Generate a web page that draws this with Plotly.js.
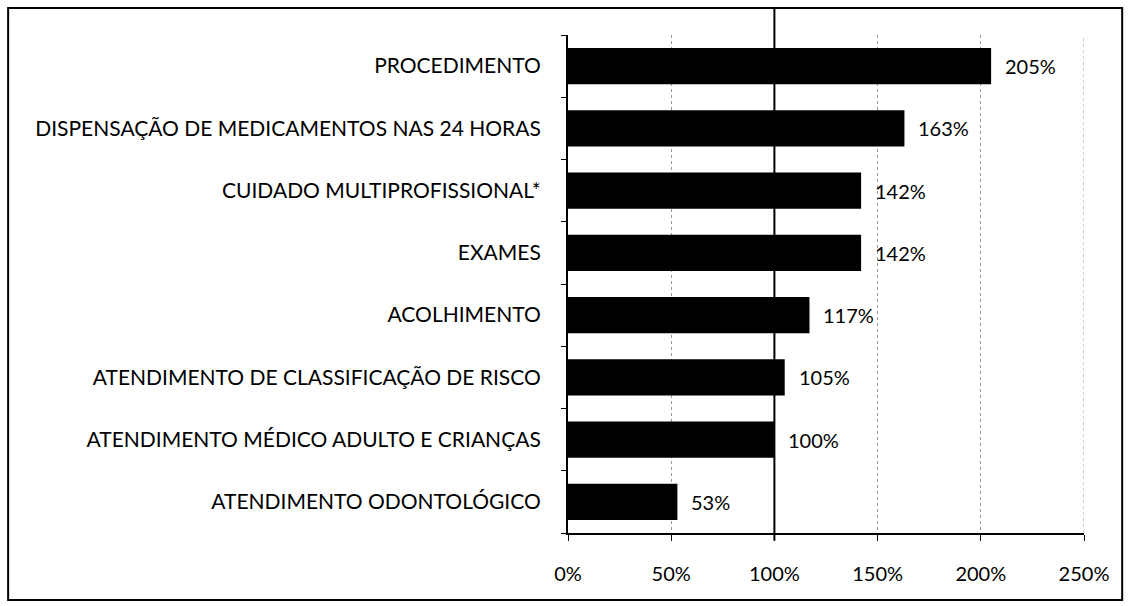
<!DOCTYPE html>
<html>
<head>
<meta charset="utf-8">
<script src="https://cdn.plot.ly/plotly-3.0.1.min.js"></script>
<style>html,body{margin:0;padding:0;background:#fff;}#chart{width:1129px;height:606px;}</style>
</head>
<body>
<div id="chart"></div>
<script>
const categories = [
  "ATENDIMENTO ODONTOLÓGICO",
  "ATENDIMENTO MÉDICO ADULTO E CRIANÇAS",
  "ATENDIMENTO DE CLASSIFICAÇÃO DE RISCO",
  "ACOLHIMENTO",
  "EXAMES",
  "CUIDADO MULTIPROFISSIONAL*",
  "DISPENSAÇÃO DE MEDICAMENTOS NAS 24 HORAS",
  "PROCEDIMENTO"
];
const values = [0.53, 1.00, 1.05, 1.17, 1.42, 1.42, 1.63, 2.05];
const valueLabels = ["53%", "100%", "105%", "117%", "142%", "142%", "163%", "205%"];
const xTickVals = [0, 0.5, 1.0, 1.5, 2.0, 2.5];
const xTickText = ["0%", "50%", "100%", "150%", "200%", "250%"];

const FONT = "Lato, 'Open Sans', 'Liberation Sans', sans-serif";
const FSIZE = 20;

const trace = {
  type: "bar",
  orientation: "h",
  x: values,
  y: categories,
  marker: {color: "#000000"},
  hoverinfo: "none"
};

const annotations = values.map((v, i) => ({
  x: v, y: categories[i], xref: "x", yref: "y",
  text: valueLabels[i], showarrow: false,
  xanchor: "left", yanchor: "middle", xshift: 12,
  font: {family: FONT, size: FSIZE, color: "#000"}
}));

const layout = {
  width: 1129,
  height: 606,
  margin: {l: 568, r: 45, t: 35, b: 73},
  paper_bgcolor: "#ffffff",
  plot_bgcolor: "#ffffff",
  showlegend: false,
  bargap: 0.42,
  font: {family: FONT, size: FSIZE, color: "#000"},
  annotations: annotations,
  xaxis: {
    range: [0, 2.5],
    tickvals: xTickVals,
    ticktext: xTickText,
    showgrid: true,
    gridcolor: "#9a9a9a",
    griddash: "dot",
    gridwidth: 1,
    zeroline: false,
    showline: true,
    linecolor: "#000",
    linewidth: 2,
    ticks: "outside",
    ticklen: 6,
    tickcolor: "#000",
    ticklabelstandoff: 16,
    tickfont: {family: FONT, size: FSIZE, color: "#000"},
    fixedrange: true
  },
  yaxis: {
    type: "category",
    showgrid: false,
    showline: true,
    linecolor: "#000",
    linewidth: 2,
    ticks: "outside",
    tickson: "boundaries",
    ticklen: 5,
    tickcolor: "#000",
    ticklabelstandoff: 21,
    tickfont: {family: FONT, size: 21, color: "#000"},
    fixedrange: true
  },
  shapes: [
    {type: "line", xref: "x", yref: "paper", x0: 2.5, x1: 2.5, y0: 0, y1: 1,
     line: {color: "#9a9a9a", width: 1, dash: "dot"}},
    {type: "line", xref: "x", yref: "paper", x0: 1.0, x1: 1.0, y0: -0.015, y1: 1.054,
     line: {color: "#000", width: 2}},
    {type: "rect", xref: "paper", yref: "paper", x0: -1.085, x1: 1.074, y0: -0.1345, y1: 1.054,
     line: {color: "#000", width: 2}, fillcolor: "rgba(0,0,0,0)", layer: "below"}
  ]
};

Plotly.newPlot("chart", [trace], layout, {displayModeBar: false, staticPlot: true});
</script>
</body>
</html>
